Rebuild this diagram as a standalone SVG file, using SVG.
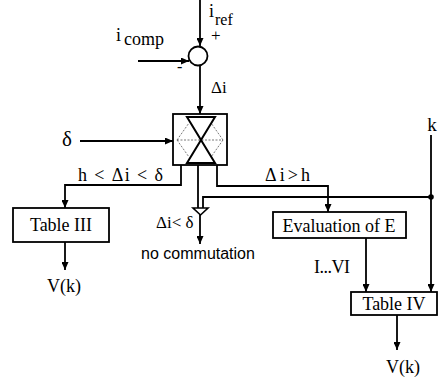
<svg xmlns="http://www.w3.org/2000/svg" width="439" height="379" viewBox="0 0 439 379">
<defs>
<style>
.ln{fill:none;stroke:#000;stroke-width:1.8}
.bx{fill:#fff;stroke:#000;stroke-width:1.8}
.t{font-family:"Liberation Serif","Times New Roman",serif;fill:#000}
.s{font-family:"Liberation Sans",Arial,sans-serif;fill:#000}
.thin{fill:none;stroke:#555;stroke-width:0.8;stroke-dasharray:2 1.5}
</style>
<marker id="ah" markerUnits="userSpaceOnUse" markerWidth="8" markerHeight="7" refX="8" refY="3.5" orient="auto">
<path d="M0,0 L8,3.5 L0,7 z" fill="#000"/>
</marker>
</defs>
<rect width="439" height="379" fill="#fff"/>

<g id="connectors">
<path class="ln" d="M200,0 V46" marker-end="url(#ah)"/>
<path class="ln" d="M138,61 H189" marker-end="url(#ah)"/>
<path class="ln" d="M200,66 V114" marker-end="url(#ah)"/>
<path class="ln" d="M80,141 H173" marker-end="url(#ah)"/>
<path class="ln" d="M181,165 V185 H65 V208" marker-end="url(#ah)"/>
<path class="ln" d="M65,242 V270" marker-end="url(#ah)"/>
<path class="ln" d="M198,165 V208"/>
<path class="ln" d="M431,197 H203 V208"/>
<path class="ln" d="M200,214 V244" marker-end="url(#ah)"/>
<path class="ln" d="M217,165 V186 H328 V212" marker-end="url(#ah)"/>
<path class="ln" d="M431,135 V292" marker-end="url(#ah)"/>
<path class="ln" d="M366,238 V292" marker-end="url(#ah)"/>
<path class="ln" d="M397,315 V350" marker-end="url(#ah)"/>
<path d="M193,208 H208 L200.5,215 z" fill="#fff" stroke="#000" stroke-width="1.6"/>
<circle cx="431" cy="197" r="2.8" fill="#000"/>
</g>

<g id="sum">
<circle cx="198" cy="56" r="9.5" class="bx"/>
<text class="t" x="209" y="17" font-size="18">i</text>
<text class="t" x="215" y="25" font-size="16">ref</text>
<text class="t" x="211" y="41" font-size="17">+</text>
<text class="t" x="116" y="41" font-size="18">i</text>
<text class="t" x="124" y="45" font-size="18">comp</text>
<text class="t" x="177" y="72" font-size="16">-</text>
<text class="t" x="211" y="93" font-size="17">Δi</text>
</g>

<g id="comparator">
<rect x="173" y="114" width="54" height="51" class="bx"/>
<path class="thin" d="M177,140 H223 M177,140 L189,123 M177,140 L189,157 M223,140 L211,123 M223,140 L211,157"/>
<path d="M187,117 H215 L187,163 H215 z" fill="none" stroke="#000" stroke-width="2" stroke-linejoin="miter"/>
<text class="t" x="62" y="146" font-size="21">δ</text>
</g>

<g id="labels">
<text class="t" x="78" y="181" font-size="18" textLength="85" lengthAdjust="spacing">h &lt; Δi &lt; δ</text>
<text class="t" x="265" y="181" font-size="18" textLength="45" lengthAdjust="spacing">Δi&gt;h</text>
<text class="t" x="156" y="228" font-size="17">Δi&lt; δ</text>
<text class="s" x="198" y="259" font-size="16" text-anchor="middle">no commutation</text>
<text class="t" x="432" y="131" font-size="19" text-anchor="middle">k</text>
<text class="t" x="314" y="273" font-size="18" textLength="36" lengthAdjust="spacing">I...VI</text>
</g>

<g id="table3">
<rect x="13" y="208" width="96" height="34" class="bx"/>
<text class="t" x="61" y="231" font-size="18" text-anchor="middle">Table III</text>
<text class="t" x="64" y="292" font-size="18" text-anchor="middle">V(k)</text>
</g>

<g id="evalE">
<rect x="273" y="212" width="133" height="26" class="bx"/>
<text class="t" x="339" y="232" font-size="18" text-anchor="middle">Evaluation of E</text>
</g>

<g id="table4">
<rect x="351" y="292" width="86" height="23" class="bx"/>
<text class="t" x="394" y="310" font-size="18" text-anchor="middle">Table IV</text>
<text class="t" x="403" y="373" font-size="18" text-anchor="middle">V(k)</text>
</g>
</svg>
